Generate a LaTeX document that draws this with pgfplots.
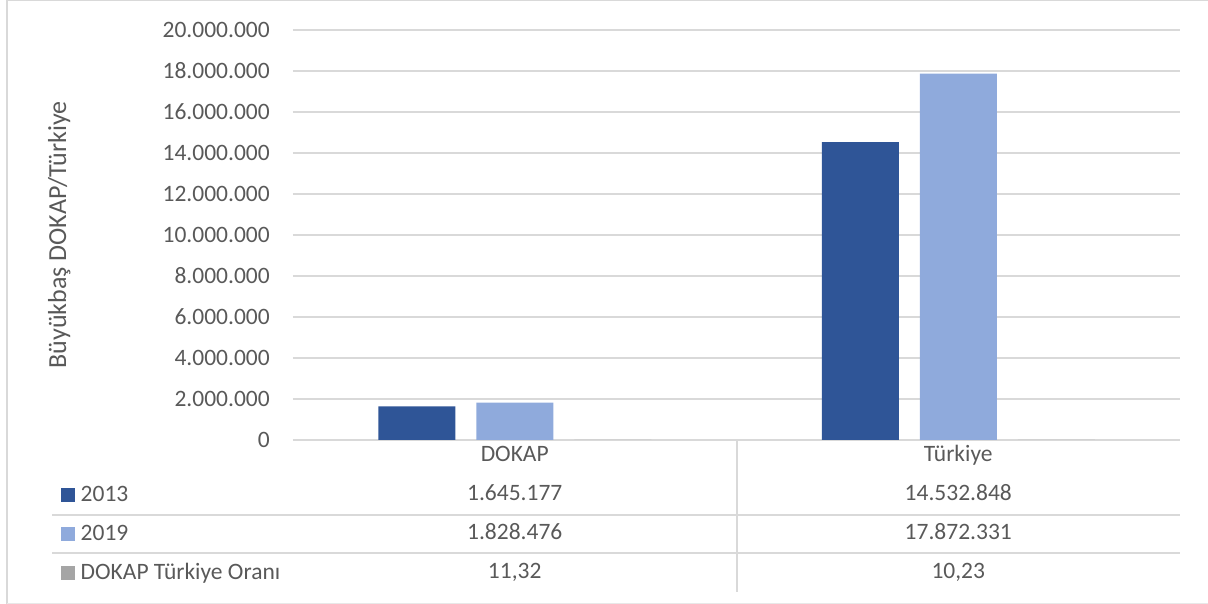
\documentclass[border=0pt]{standalone}
\usepackage{pgfplots}
\pgfplotsset{compat=1.18}
\usepackage{fontspec}
\setmainfont{Carlito}
\definecolor{c2013}{HTML}{2F5597}
\definecolor{c2019}{HTML}{8FAADC}
\definecolor{cratio}{HTML}{A5A5A5}
\definecolor{txt}{HTML}{595959}
\definecolor{grd}{HTML}{D9D9D9}
\begin{document}
\begin{tikzpicture}[x=1pt,y=1pt]
\useasboundingbox (0,0) rectangle (1208,604);
% outer frame
\draw[grd, line width=1.2pt] (7,0) -- (7,603.4) -- (1208,603.4);
\draw[grd!60, line width=0.8pt] (7,1) -- (1208,1);
\begin{axis}[
  at={(293pt,164pt)}, anchor=south west,
  scale only axis, width=887pt, height=410pt,
  xmin=0, xmax=2, ymin=0, ymax=20000000,
  ybar, bar width=77pt,
  axis line style={draw=none},
  major tick length=0pt,
  ymajorgrids, grid style={grd, line width=1.3pt},
  ytick distance=2000000,
  scaled y ticks=false,
  xtick={0.5,1.5}, xticklabels={DOKAP,Türkiye},
  /pgf/number format/assume math mode=true,
  yticklabel style={/pgf/number format/.cd, fixed, precision=0, 1000 sep={.}, /tikz/.cd, anchor=east, inner sep=0pt, xshift=-23pt, font=\fontsize{23.5}{28}\selectfont, text=txt},
  xticklabel style={anchor=base, inner sep=0pt, yshift=-22pt, font=\fontsize{23.5}{28}\selectfont, text=txt},
  ylabel={Büyükbaş DOKAP/Türkiye},
  every axis y label/.style={at={(rel axis cs:-0.2559,0.5)}, rotate=90, anchor=base, font=\fontsize{26}{30}\selectfont, text=txt},
  clip=false,
]
\addplot[fill=c2013, draw=none, bar shift=-98pt] coordinates {(0.5,1645177) (1.5,14532848)};
\addplot[fill=c2019, draw=none, bar shift=0pt] coordinates {(0.5,1828476) (1.5,17872331)};
\addplot[fill=cratio, draw=none, bar shift=98pt] coordinates {(0.5,11.32) (1.5,10.23)};
% data table values
\begin{scope}[every node/.style={anchor=base, inner sep=0pt, font=\fontsize{23.5}{28}\selectfont, text=txt}]
\node at (axis cs:0.5,0) [yshift=-61pt] {1.645.177};
\node at (axis cs:1.5,0) [yshift=-61pt] {14.532.848};
\node at (axis cs:0.5,0) [yshift=-100pt] {1.828.476};
\node at (axis cs:1.5,0) [yshift=-100pt] {17.872.331};
\node at (axis cs:0.5,0) [yshift=-139pt] {11,32};
\node at (axis cs:1.5,0) [yshift=-139pt] {10,23};
\end{scope}
\end{axis}
% table lines
\draw[grd, line width=1.5pt] (52,89) -- (1180,89);
\draw[grd, line width=1.5pt] (52,51) -- (1180,51);
\draw[grd, line width=1.5pt] (737,164) -- (737,12);
% legend keys
\fill[c2013] (61,102) rectangle (75,116);
\fill[c2019] (61,63) rectangle (75,77);
\fill[cratio] (61,24) rectangle (75,38);
\begin{scope}[every node/.style={anchor=base west, inner sep=0pt, font=\fontsize{23.5}{28}\selectfont, text=txt}]
\node at (80.5,102.5) {2013};
\node at (80.5,63.5) {2019};
\node at (80.5,24.5) {DOKAP Türkiye Oranı};
\end{scope}
\end{tikzpicture}
\end{document}
